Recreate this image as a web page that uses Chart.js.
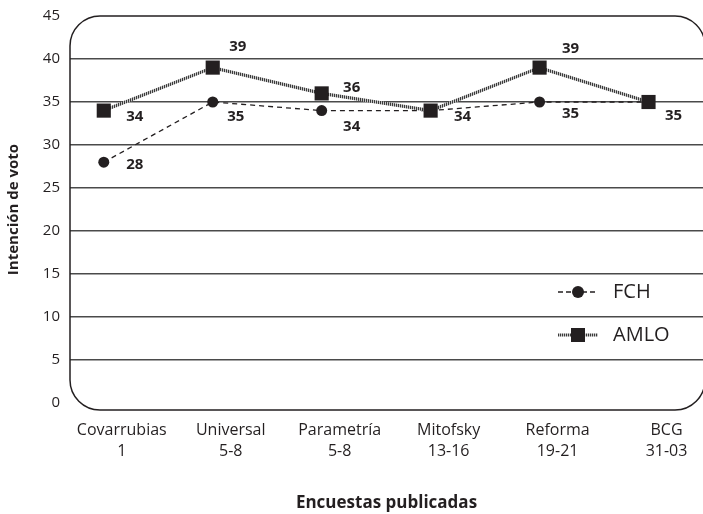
<!DOCTYPE html>
<html lang="es">
<head>
<meta charset="utf-8">
<title>Intención de voto</title>
<script src="https://cdn.jsdelivr.net/npm/chart.js@4.4.1/dist/chart.umd.min.js"></script>
<style>
  html, body { margin: 0; padding: 0; background: #ffffff; }
  #wrap { width: 703px; height: 514px; }
</style>
</head>
<body>
<div id="wrap"><canvas id="c" width="703" height="514"></canvas></div>
<script>
// Poll series (voting intention, %)
const pollsters  = ['Covarrubias', 'Universal', 'Parametría', 'Mitofsky', 'Reforma', 'BCG'];
const pollDates  = ['1', '5-8', '5-8', '13-16', '19-21', '31-03'];
const fchValues  = [28, 35, 34, 34, 35, 35];
const amloValues = [34, 39, 36, 34, 39, 35];
const yTicks     = [0, 5, 10, 15, 20, 25, 30, 35, 40, 45];

// Placement of the value labels next to each marker (dx, dy in px)
const amloLabelShift = [[31, 6], [25, -21], [30, -6], [32, 6], [31, -19], [25, 14]];
const fchLabelShift  = [[31, 3], [23, 15], [30, 16], [30, 16], [31, 12], [25, 14]];

const family = "'Open Sans', 'Noto Sans', sans-serif";
const ink = '#231f20';

// Grey hatched stroke used for the AMLO line
function hatchPattern() {
  const c = document.createElement('canvas');
  c.width = 2; c.height = 2;
  const g = c.getContext('2d');
  g.fillStyle = '#c6c6c6'; g.fillRect(0, 0, 2, 2);
  g.fillStyle = '#3a3a3a'; g.fillRect(0, 0, 1, 2);
  return g.createPattern(c, 'repeat');
}
const hatch = hatchPattern();

function roundedRect(ctx, l, t, w, h, r) {
  ctx.beginPath();
  ctx.moveTo(l + r, t);
  ctx.lineTo(l + w - r, t);
  ctx.arcTo(l + w, t, l + w, t + r, r);
  ctx.lineTo(l + w, t + h - r);
  ctx.arcTo(l + w, t + h, l + w - r, t + h, r);
  ctx.lineTo(l + r, t + h);
  ctx.arcTo(l, t + h, l, t + h - r, r);
  ctx.lineTo(l, t + r);
  ctx.arcTo(l, t, l + r, t, r);
  ctx.closePath();
}

// Rounded frame around the plotting area
const framePlugin = {
  id: 'frame',
  beforeDatasetsDraw(chart) {
    const { ctx, chartArea: a, scales: { y } } = chart;
    const l = a.left, t = a.top, r = a.right + 2, b = y.getPixelForValue(0) + 7;
    ctx.save();
    roundedRect(ctx, l, t, r - l, b - t, 30);
    ctx.lineWidth = 1.5;
    ctx.strokeStyle = ink;
    ctx.stroke();
    ctx.restore();
  }
};

// Value labels beside the markers
const valueLabelPlugin = {
  id: 'valueLabels',
  afterDatasetsDraw(chart) {
    const { ctx } = chart;
    ctx.save();
    ctx.font = `bold 15px ${family}`;
    ctx.fillStyle = ink;
    ctx.textAlign = 'center';
    ctx.textBaseline = 'middle';
    chart.data.datasets.forEach((ds, di) => {
      const meta = chart.getDatasetMeta(di);
      const values = ds.label === 'AMLO' ? amloValues : fchValues;
      const shifts = ds.label === 'AMLO' ? amloLabelShift : fchLabelShift;
      values.forEach((v, i) => {
        // FCH label is shared with AMLO where both polls agree
        if (ds.label === 'FCH' && v === amloValues[i]) return;
        const p = meta.data[i];
        ctx.fillText(String(v), p.x + shifts[i][0], p.y + shifts[i][1]);
      });
    });
    ctx.restore();
  }
};

// Legend inside the lower-right part of the frame
const legendPlugin = {
  id: 'innerLegend',
  afterDraw(chart) {
    const { ctx, chartArea: a } = chart;
    const x0 = a.right - 145, x1 = a.right - 105, xm = (x0 + x1) / 2, xt = a.right - 90;
    const rows = [
      { label: 'FCH', y: a.bottom - 111 },
      { label: 'AMLO', y: a.bottom - 68 }
    ];
    ctx.save();
    rows.forEach(row => {
      ctx.beginPath();
      if (row.label === 'FCH') {
        ctx.setLineDash([5, 3]);
        ctx.strokeStyle = ink;
        ctx.lineWidth = 1.3;
      } else {
        ctx.setLineDash([]);
        ctx.strokeStyle = hatch;
        ctx.lineWidth = 3.2;
      }
      ctx.moveTo(x0, row.y);
      ctx.lineTo(x1, row.y);
      ctx.stroke();
      ctx.setLineDash([]);
      ctx.fillStyle = ink;
      if (row.label === 'FCH') {
        ctx.beginPath();
        ctx.arc(xm, row.y, 6, 0, Math.PI * 2);
        ctx.fill();
      } else {
        ctx.fillRect(xm - 7, row.y - 7, 14, 14);
      }
      ctx.font = `20px ${family}`;
      ctx.textAlign = 'left';
      ctx.textBaseline = 'middle';
      ctx.fillText(row.label, xt, row.y);
    });
    ctx.restore();
  }
};

new Chart(document.getElementById('c'), {
  type: 'line',
  data: {
    datasets: [
      {
        label: 'FCH',
        data: fchValues.map((v, i) => ({ x: i, y: v })),
        borderColor: ink,
        borderWidth: 1.3,
        borderDash: [5, 4],
        pointStyle: 'circle',
        pointRadius: 5.5,
        pointBackgroundColor: ink,
        pointBorderWidth: 0,
        order: 1
      },
      {
        label: 'AMLO',
        data: amloValues.map((v, i) => ({ x: i, y: v })),
        borderColor: hatch,
        borderWidth: 3.2,
        pointStyle: 'rect',
        pointRadius: 10,
        pointBackgroundColor: ink,
        pointBorderWidth: 0,
        order: 0
      }
    ]
  },
  options: {
    responsive: false,
    animation: false,
    events: [],
    layout: { autoPadding: false, padding: { top: 16, right: 0, bottom: 0, left: 0 } },
    plugins: { legend: { display: false }, tooltip: { enabled: false } },
    scales: {
      x: {
        type: 'linear',
        min: -0.31,
        max: 5.5,
        grid: { display: false },
        border: { display: false },
        afterBuildTicks: s => { s.ticks = pollsters.map((_, i) => ({ value: i })); },
        afterFit: s => { s.height = 111; s.paddingLeft = 0; s.paddingRight = 0; },
        ticks: {
          autoSkip: false,
          maxRotation: 0,
          padding: 9,
          labelOffset: 18,
          color: ink,
          font: { family, size: 16, lineHeight: 1.3 },
          callback: v => [pollsters[v], pollDates[v]]
        },
        title: {
          display: true,
          text: 'Encuestas publicadas',
          color: ink,
          font: { family, size: 17, weight: 'bold' },
          padding: { top: 0, bottom: 1 }
        }
      },
      y: {
        min: 0,
        max: 45,
        afterBuildTicks: s => { s.ticks = yTicks.map(v => ({ value: v })); },
        afterFit: s => { s.width = 70; s.paddingTop = 0; s.paddingBottom = 0; },
        grid: {
          color: c => (c.tick && (c.tick.value === 0 || c.tick.value === 45)) ? 'rgba(0,0,0,0)' : '#4a4a4a',
          lineWidth: 1.6,
          drawTicks: false
        },
        border: { display: false },
        ticks: { padding: 10, color: ink, font: { family, size: 15 } },
        title: {
          display: true,
          text: 'Intención de voto',
          color: ink,
          font: { family, size: 15, weight: 'bold' },
          padding: { top: 5, bottom: 0 }
        }
      }
    }
  },
  plugins: [framePlugin, valueLabelPlugin, legendPlugin]
});
</script>
</body>
</html>
